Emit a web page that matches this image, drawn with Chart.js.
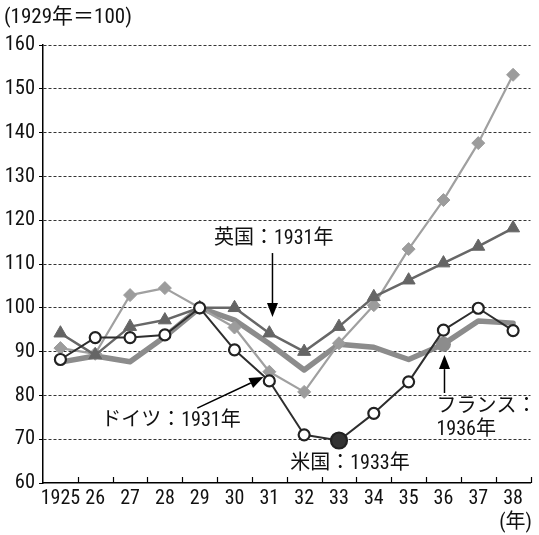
<!DOCTYPE html>
<html>
<head>
<meta charset="utf-8">
<script src="https://cdn.jsdelivr.net/npm/chart.js@4.4.1/dist/chart.umd.min.js"></script>
<style>
html,body{margin:0;padding:0;background:#fff;}
#wrap{width:539px;height:535px;position:relative;}
</style>
</head>
<body>
<div id="wrap"><canvas id="c" width="539" height="535"></canvas></div>
<script>
const years = ['1925','26','27','28','29','30','31','32','33','34','35','36','37','38'];
const yTicks = [60,70,80,90,100,110,120,130,140,150,160];
const germany = [90.8, 89.5, 102.9, 104.5, 100, 95.5, 85.4, 80.8, 91.9, 100.6, 113.4, 124.6, 137.6, 153.2];
const uk      = [94.2, 89.2, 95.7, 97.2, 100, 100, 94.2, 90.0, 95.7, 102.5, 106.3, 110.2, 114.0, 118.2];
const us      = [88.2, 93.2, 93.2, 93.8, 100, 90.4, 83.3, 71.0, 69.7, 75.9, 83.1, 94.9, 99.9, 94.8];
const france  = [87.6, 89.0, 87.7, 93.4, 100, 97.2, 91.8, 85.8, 91.7, 91.0, 88.2, 91.7, 97.0, 96.5];
const unitLabel = '(1929年＝100)';
const xUnitLabel = '(年)';
const usMarkIndex = 8;      // 1933
const franceMarkIndex = 11; // 1936
const notes = [
  {text:'英国：1931年', x:4.41, y:115.7},
  {text:'ドイツ：1931年', x:1.17, y:74.2},
  {text:'米国：1933年', x:6.6, y:64.3},
  {text:'フランス：', x:10.8, y:77.35},
  {text:'1936年', x:10.8, y:72.1}
];
const arrows = [
  {from:[6.09,112.5], to:[6.09,97.9]},
  {from:[3.93,77.1], to:[5.83,84.2]},
  {from:[11.03,80.55], to:[11.03,89.2]}
];

const FONT = "'Roboto Condensed', 'Noto Sans CJK JP', sans-serif";
Chart.defaults.font.family = FONT;
Chart.defaults.color = '#111';

const deco = {
  id:'deco',
  afterDatasetsDraw(chart){
    const {ctx, chartArea:a, scales:{x,y}} = chart;
    ctx.save();
    ctx.strokeStyle = '#000'; ctx.lineWidth = 1.2;
    for(let k=1;k<=years.length;k++){
      const px = Math.round(x.getPixelForValue(k-0.5))+0.5;
      ctx.beginPath(); ctx.moveTo(px, a.bottom); ctx.lineTo(px, a.bottom-6); ctx.stroke();
    }
    ctx.strokeStyle = '#000'; ctx.fillStyle = '#000'; ctx.lineWidth = 1.5;
    arrows.forEach(ar=>{
      const x1 = x.getPixelForValue(ar.from[0]), y1 = y.getPixelForValue(ar.from[1]);
      const x2 = x.getPixelForValue(ar.to[0]), y2 = y.getPixelForValue(ar.to[1]);
      const ang = Math.atan2(y2-y1, x2-x1);
      const L = 14, W = 5.5;
      const bx = x2 - L*Math.cos(ang), by = y2 - L*Math.sin(ang);
      ctx.beginPath(); ctx.moveTo(x1,y1); ctx.lineTo(bx,by); ctx.stroke();
      ctx.beginPath();
      ctx.moveTo(x2,y2);
      ctx.lineTo(bx + W*Math.sin(ang), by - W*Math.cos(ang));
      ctx.lineTo(bx - W*Math.sin(ang), by + W*Math.cos(ang));
      ctx.closePath(); ctx.fill();
    });
    ctx.font = '20px ' + FONT;
    ctx.fillStyle = '#111';
    ctx.textBaseline = 'middle'; ctx.textAlign = 'left';
    notes.forEach(n=>{
      ctx.fillText(n.text, x.getPixelForValue(n.x), y.getPixelForValue(n.y));
    });
    ctx.font = '21px ' + FONT;
    ctx.fillText(unitLabel, 4, 18);
    ctx.textAlign = 'right';
    ctx.font = '20px ' + FONT;
    ctx.fillText(xUnitLabel, 532, 523);
    ctx.restore();
  }
};

new Chart(document.getElementById('c'), {
  type:'line',
  data:{
    labels: years,
    datasets:[
      {label:'米国', data:us, order:1, borderColor:'#2e2e2e', borderWidth:2,
       pointStyle:'circle',
       pointRadius:(c)=>c.dataIndex===usMarkIndex?8:5.5,
       pointBackgroundColor:(c)=>c.dataIndex===usMarkIndex?'#333':'#fff',
       pointBorderColor:'#222', pointBorderWidth:2.2, tension:0},
      {label:'英国', data:uk, order:2, borderColor:'#676767', borderWidth:2.5,
       pointStyle:'triangle', pointRadius:7.5, pointBackgroundColor:'#656565', pointBorderColor:'#656565', pointBorderWidth:1, tension:0},
      {label:'ドイツ', data:germany, order:3, borderColor:'#a0a0a0', borderWidth:2.2,
       pointStyle:'rectRot', pointRadius:6.5, pointBackgroundColor:'#9c9c9c', pointBorderColor:'#9c9c9c', pointBorderWidth:1, tension:0},
      {label:'フランス', data:france, order:4, borderColor:'#8c8c8c', borderWidth:5.5,
       pointStyle:'circle',
       pointRadius:(c)=>c.dataIndex===franceMarkIndex?7.5:0,
       pointBackgroundColor:'#8c8c8c', pointBorderColor:'#8c8c8c', pointBorderWidth:0, tension:0}
    ]
  },
  options:{
    responsive:false, animation:false, devicePixelRatio:1,
    layout:{padding:{top:45,right:2,left:0,bottom:0}},
    plugins:{legend:{display:false}, tooltip:{enabled:false}, title:{display:false}},
    elements:{line:{borderJoinStyle:'round', borderCapStyle:'round'}},
    scales:{
      x:{
        type:'category', offset:true,
        grid:{display:false, drawTicks:false, offset:true},
        border:{display:true, color:'#000', width:1.5},
        ticks:{font:{size:20}, color:'#111', padding:4, maxRotation:0, autoSkip:false},
        afterFit(s){ s.height = 52; }
      },
      y:{
        min:60, max:160,
        afterBuildTicks(s){ s.ticks = yTicks.map(v=>({value:v})); },
        grid:{color:(c)=>c.tick && c.tick.value===60?'rgba(0,0,0,0)':'#333', lineWidth:1, tickLength:4, tickColor:'#000', tickBorderDash:[]},
        border:{display:true, color:'#000', width:1.5, dash:[3,2]},
        ticks:{font:{size:20.5}, color:'#111', padding:4},
        afterFit(s){ s.width = 43; }
      }
    }
  },
  plugins:[deco]
});
</script>
</body>
</html>
